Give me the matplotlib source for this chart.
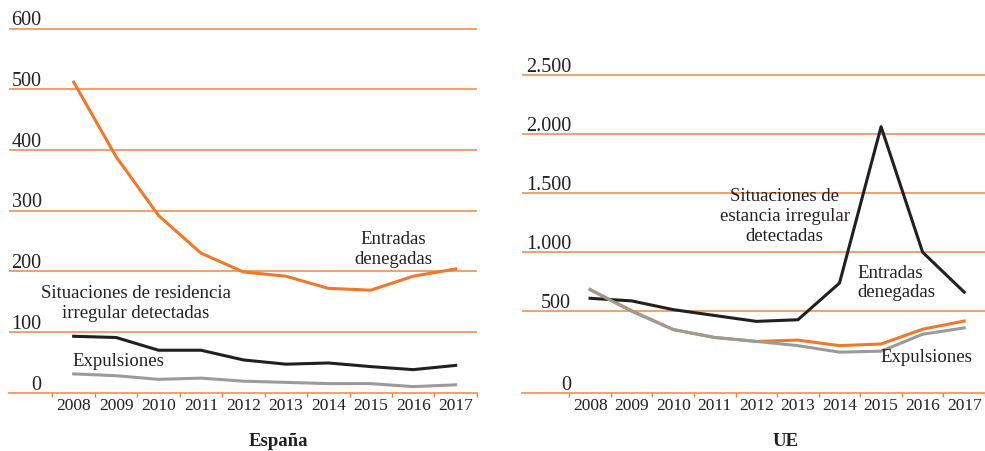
import numpy as np
import matplotlib
matplotlib.use("Agg")
import matplotlib.pyplot as plt
from matplotlib.transforms import ScaledTranslation

plt.rcParams['font.family'] = ['Liberation Serif', 'DejaVu Serif']

years = ['2008', '2009', '2010', '2011', '2012', '2013', '2014', '2015', '2016', '2017']

# España
es_entradas = [512, 389, 292, 230, 199, 192, 172, 169, 192, 204]
es_situaciones = [93, 91, 70, 70, 54, 47, 49, 43, 38, 45]
es_expulsiones = [31, 28, 22, 24, 19, 17, 15, 15, 10, 13]
es_ticks = [0, 100, 200, 300, 400, 500, 600]
es_ticklabels = ['0', '100', '200', '300', '400', '500', '600']

# UE
ue_situaciones = [610, 588, 514, 474, 438, 448, 739, 2063, 1000, 662]
ue_entradas = [684, 505, 388, 339, 315, 323, 289, 299, 390, 440]
ue_expulsiones = [684, 500, 388, 339, 315, 289, 249, 255, 359, 398]
ue_ticks = [0, 500, 1000, 1500, 2000, 2500]
ue_ticklabels = ['0', '500', '1.000', '1.500', '2.000', '2.500']

ORANGE = '#F07828'
GRID = '#F4975C'
BLACK = '#231F20'
GRAY = '#9B9B9B'
TEXT = '#231F20'

W, H = 985, 451
fig = plt.figure(figsize=(W / 100, H / 100), dpi=100)


def px_axes(left, top, right, bottom):
    return fig.add_axes([left / W, 1 - bottom / H, (right - left) / W, (bottom - top) / H])


# the UE panel has a stretched first band (0-500) in the original
K = 83.7 / 60.7


def fwd(y):
    y = np.asarray(y, dtype=float)
    return np.where(y <= 500, y * K, 500 * K + (y - 500))


def inv(v):
    v = np.asarray(v, dtype=float)
    return np.where(v <= 500 * K, v / K, v - 500 * K + 500)


def style(ax, ticks, labels, label_right_px):
    x = np.arange(len(years))
    for s in ['top', 'right', 'left']:
        ax.spines[s].set_visible(False)
    ax.spines['bottom'].set_color(GRID)
    ax.spines['bottom'].set_linewidth(1.3)
    ax.set_yticks(ticks)
    ax.set_yticklabels(labels)
    # pad is in points; negative pad pulls the labels inside the axes
    ax.tick_params(axis='y', length=0, pad=-label_right_px * 0.72, labelsize=14.5, labelcolor=TEXT)
    # labels sit just above their gridline
    lift = ScaledTranslation(0, 3.2 / 100, fig.dpi_scale_trans)
    for lab in ax.get_yticklabels():
        lab.set_va('baseline')
        lab.set_transform(lab.get_transform() + lift)
    for t in ticks[1:]:
        ax.axhline(t, color=GRID, lw=1.3, zorder=1)
    ax.set_xticks(x)
    ax.set_xticklabels(years)
    ax.set_xticks(np.arange(-0.5, len(years), 1), minor=True)
    ax.tick_params(axis='x', which='major', length=0, pad=4, labelsize=12.5, labelcolor=TEXT)
    ax.tick_params(axis='x', which='minor', length=3, width=1, color=ORANGE, direction='out')
    ax.patch.set_alpha(0)


# España panel
ax1 = px_axes(8.7, 22.6, 477.3, 392.7)
x = np.arange(len(years))
ax1.plot(x, es_entradas, color=ORANGE, lw=2.2, zorder=3)
ax1.plot(x, es_situaciones, color=BLACK, lw=2.2, zorder=3)
ax1.plot(x, es_expulsiones, color=GRAY, lw=2.2, zorder=3)
ax1.set_ylim(0, 610)
ax1.set_xlim(-1.53, 9.51)
style(ax1, es_ticks, es_ticklabels, 33)

# UE panel
ax2 = px_axes(522.3, 63.3, 985, 392.7)
ax2.set_yscale('function', functions=(fwd, inv))
ax2.plot(x, ue_entradas, color=ORANGE, lw=2.2, zorder=3)
ax2.plot(x, ue_expulsiones, color=GRAY, lw=2.2, zorder=4)
ax2.plot(x, ue_situaciones, color=BLACK, lw=2.2, zorder=3)
ax2.set_ylim(0, 2600)
ax2.set_xlim(-1.63, 9.37)
style(ax2, ue_ticks, ue_ticklabels, 48.7)


def ftext(px, py, s, **kw):
    fig.text(px / W, 1 - py / H, s, color=TEXT, va='center', linespacing=1.2, **kw)


ftext(393, 249.5, 'Entradas\ndenegadas', ha='center', fontsize=13.5)
ftext(136, 303.5, 'Situaciones de residencia\nirregular detectadas', ha='center', fontsize=13.5)
ftext(72.7, 361, 'Expulsiones', ha='left', fontsize=13.5)

ftext(784.7, 216.5, 'Situaciones de\nestancia irregular\ndetectadas', ha='center', fontsize=13.5)
ftext(857.7, 283, 'Entradas\ndenegadas', ha='left', fontsize=13.5)
ftext(880.7, 357.7, 'Expulsiones', ha='left', fontsize=13.5)

ftext(278, 441, 'España', ha='center', fontsize=13.5, fontweight='bold')
ftext(786, 441, 'UE', ha='center', fontsize=13.5, fontweight='bold')

fig.savefig('out.png', dpi=100)
